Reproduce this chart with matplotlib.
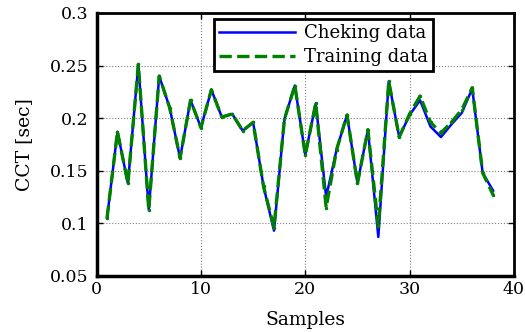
import numpy as np
import matplotlib
matplotlib.use("Agg")
import matplotlib.pyplot as plt

plt.rcParams['font.family'] = ['DejaVu Serif']

# Data
samples = np.arange(1, 39)
checking = [0.105, 0.187, 0.138, 0.251, 0.113, 0.240, 0.210, 0.162, 0.217, 0.191,
            0.227, 0.201, 0.204, 0.188, 0.196, 0.135, 0.093, 0.199, 0.231, 0.165,
            0.214, 0.125, 0.170, 0.203, 0.138, 0.189, 0.087, 0.235, 0.182, 0.203,
            0.217, 0.192, 0.182, 0.194, 0.205, 0.228, 0.148, 0.131]
training = [0.105, 0.187, 0.138, 0.251, 0.113, 0.240, 0.210, 0.162, 0.217, 0.191,
            0.227, 0.201, 0.204, 0.188, 0.196, 0.135, 0.096, 0.199, 0.231, 0.165,
            0.214, 0.115, 0.170, 0.203, 0.138, 0.189, 0.097, 0.235, 0.182, 0.204,
            0.221, 0.196, 0.186, 0.196, 0.208, 0.229, 0.148, 0.127]

fig = plt.figure(figsize=(5.25, 3.32), dpi=100)
ax = fig.add_axes([0.184, 0.169, 0.795, 0.792])

ax.plot(samples, checking, color='blue', lw=1.8, label='Cheking data')
ax.plot(samples, training, '--', color='green', lw=2.4, marker='.', markersize=3,
        label='Training data')

ax.set_xlim(0, 40)
ax.set_ylim(0.05, 0.3)
ax.set_xticks([0, 10, 20, 30, 40])
ax.set_yticks([0.05, 0.1, 0.15, 0.2, 0.25, 0.3])
ax.set_yticklabels(['0.05', '0.1', '0.15', '0.2', '0.25', '0.3'])
ax.tick_params(direction='in', labelsize=12.5, length=4, width=1,
               top=True, right=True)
ax.tick_params(axis='y', pad=6)
ax.tick_params(axis='x', pad=4)
ax.grid(True, color='gray', linestyle=':', lw=0.8)

for side in ['left', 'bottom']:
    ax.spines[side].set_linewidth(2.5)
for side in ['top', 'right']:
    ax.spines[side].set_linewidth(2)

ax.set_xlabel('Samples', fontsize=13.5, labelpad=9)
ax.set_ylabel('CCT [sec]', fontsize=13.5, labelpad=12)

leg = ax.legend(loc='upper right', bbox_to_anchor=(0.807, 0.977), fontsize=13,
                fancybox=False, framealpha=1, borderpad=0.3, handlelength=4.2,
                labelspacing=0.3, handletextpad=0.5, borderaxespad=0)
leg.get_frame().set_edgecolor('black')
leg.get_frame().set_linewidth(2)

fig.savefig('out.png', dpi=100)
